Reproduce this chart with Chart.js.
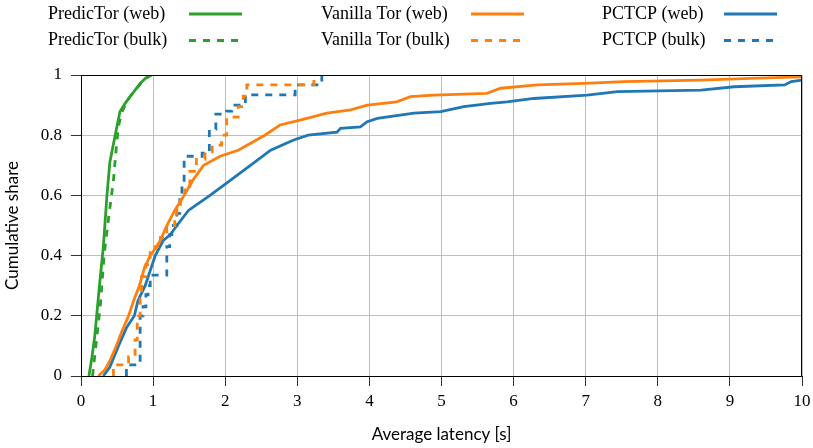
<!DOCTYPE html>
<html>
<head>
<meta charset="utf-8">
<script src="https://cdn.jsdelivr.net/npm/chart.js@4.4.0/dist/chart.umd.min.js"></script>
<style>
    html, body { margin: 0; padding: 0; background: #fff; }
    #wrap { width: 813px; height: 448px; }
</style>
</head>
<body>
<div id="wrap"><canvas id="latencyChart" width="813" height="448"></canvas></div>
<script>
// Valores (latência média em s, fração acumulada)
const predictorWebX = [0.11, 0.15, 0.19, 0.26, 0.31, 0.36, 0.40, 0.47, 0.54, 0.61, 0.68, 0.75, 0.82, 0.90, 0.98];
const predictorWebY = [0, 0.06, 0.13, 0.31, 0.43, 0.60, 0.71, 0.795, 0.878, 0.905, 0.928, 0.95, 0.972, 0.99, 1.0];

const predictorBulkX = [0.16, 0.22, 0.27, 0.32, 0.38, 0.45, 0.49, 0.52, 0.565, 0.63, 0.70, 0.77, 0.84, 0.96];
const predictorBulkY = [0, 0.13, 0.24, 0.40, 0.52, 0.65, 0.76, 0.83, 0.875, 0.91, 0.935, 0.955, 0.975, 1.0];

const vanillaWebX = [0.24, 0.33, 0.40, 0.49, 0.57, 0.66, 0.73, 0.81, 0.88, 0.96, 1.02, 1.10, 1.19, 1.30, 1.43, 1.55, 1.70, 1.93, 2.18, 2.55, 2.76, 3.04, 3.41, 3.74, 3.97, 4.38, 4.57, 4.89, 5.63, 5.82, 6.33, 6.98, 7.53, 8.60, 9.29, 10.0];
const vanillaWebY = [0, 0.02, 0.05, 0.10, 0.15, 0.20, 0.25, 0.30, 0.36, 0.40, 0.42, 0.45, 0.50, 0.55, 0.60, 0.65, 0.70, 0.73, 0.75, 0.80, 0.834, 0.85, 0.873, 0.884, 0.90, 0.911, 0.928, 0.933, 0.939, 0.956, 0.967, 0.972, 0.978, 0.983, 0.989, 0.994];

const vanillaBulkX = [0.45, 0.45, 0.66, 0.75, 0.78, 0.82, 0.84, 0.90, 0.96, 1.03, 1.10, 1.19, 1.30, 1.33, 1.38, 1.44, 1.51, 1.60, 1.72, 1.82, 1.95, 2.02, 2.18, 2.25, 2.30, 3.23];
const vanillaBulkY = [0, 0.037, 0.064, 0.12, 0.20, 0.27, 0.33, 0.37, 0.41, 0.43, 0.46, 0.50, 0.53, 0.57, 0.60, 0.63, 0.68, 0.72, 0.745, 0.767, 0.80, 0.86, 0.895, 0.93, 0.967, 0.983];

const pctcpWebX = [0.31, 0.40, 0.52, 0.63, 0.74, 0.79, 0.89, 0.96, 1.03, 1.14, 1.24, 1.33, 1.49, 1.61, 1.79, 2.07, 2.35, 2.63, 2.95, 3.15, 3.55, 3.60, 3.875, 3.97, 4.11, 4.62, 4.99, 5.31, 5.68, 5.91, 6.28, 7.02, 7.44, 8.60, 9.06, 9.76, 9.85, 10.0];
const pctcpWebY = [0, 0.03, 0.10, 0.16, 0.20, 0.25, 0.30, 0.35, 0.40, 0.45, 0.47, 0.50, 0.55, 0.57, 0.60, 0.65, 0.70, 0.75, 0.784, 0.80, 0.81, 0.823, 0.828, 0.845, 0.856, 0.873, 0.878, 0.895, 0.906, 0.911, 0.922, 0.933, 0.945, 0.95, 0.961, 0.967, 0.978, 0.983];

const pctcpBulkX = [0.63, 0.63, 0.82, 0.86, 0.90, 0.93, 0.96, 1.19, 1.23, 1.26, 1.33, 1.37, 1.40, 1.43, 1.68, 1.78, 1.87, 2.02, 2.09, 2.28, 2.97, 3.34];
const pctcpBulkY = [0, 0.037, 0.20, 0.23, 0.27, 0.30, 0.335, 0.43, 0.47, 0.50, 0.54, 0.60, 0.65, 0.73, 0.74, 0.82, 0.87, 0.88, 0.90, 0.934, 0.967, 1.0];

const xTicks = [0, 1, 2, 3, 4, 5, 6, 7, 8, 9, 10];
const yTicks = [0, 0.2, 0.4, 0.6, 0.8, 1];

const GREEN = '#2ca02c';
const ORANGE = '#ff7f0e';
const BLUE = '#1f77b4';
const DASH = [7, 7];

function toPoints(xs, ys) {
    return xs.map((x, i) => ({ x: x, y: ys[i] }));
}

function makeSet(label, xs, ys, color, dashed, stepped) {
    return {
        label: label,
        data: toPoints(xs, ys),
        borderColor: color,
        backgroundColor: color,
        borderWidth: 2.8,
        borderDash: dashed ? DASH : [],
        stepped: stepped ? 'before' : false,
        pointRadius: 0,
        tension: 0,
        fill: false
    };
}

const datasets = [
    makeSet('PredicTor (web)', predictorWebX, predictorWebY, GREEN, false, false),
    makeSet('PredicTor (bulk)', predictorBulkX, predictorBulkY, GREEN, true, false),
    makeSet('Vanilla Tor (web)', vanillaWebX, vanillaWebY, ORANGE, false, false),
    makeSet('Vanilla Tor (bulk)', vanillaBulkX, vanillaBulkY, ORANGE, true, true),
    makeSet('PCTCP (web)', pctcpWebX, pctcpWebY, BLUE, false, false),
    makeSet('PCTCP (bulk)', pctcpBulkX, pctcpBulkY, BLUE, true, true)
];

// legenda em 3 colunas x 2 linhas: texto à esquerda, amostra da linha à direita
const legendCols = [
    { textX: 48, lineX: 189 },
    { textX: 321, lineX: 471 },
    { textX: 602, lineX: 724 }
];
const legendRows = [
    { baseline: 19, lineY: 14 },
    { baseline: 45, lineY: 40.5 }
];

const legendPlugin = {
    id: 'gridLegend',
    afterDraw(chart) {
        const ctx = chart.ctx;
        ctx.save();
        ctx.font = '18px "Liberation Serif", "DejaVu Serif", serif';
        ctx.textBaseline = 'alphabetic';
        ctx.textAlign = 'left';
        chart.data.datasets.forEach((ds, i) => {
            const col = legendCols[Math.floor(i / 2)];
            const row = legendRows[i % 2];
            ctx.fillStyle = '#000';
            ctx.fillText(ds.label, col.textX, row.baseline);
            ctx.strokeStyle = ds.borderColor;
            ctx.lineWidth = 3;
            ctx.setLineDash(ds.borderDash);
            ctx.beginPath();
            ctx.moveTo(col.lineX, row.lineY);
            ctx.lineTo(col.lineX + 53, row.lineY);
            ctx.stroke();
        });
        ctx.restore();
    }
};

// moldura superior e direita da área do gráfico
const framePlugin = {
    id: 'frame',
    afterDraw(chart) {
        const { ctx, chartArea } = chart;
        const top = Math.round(chartArea.top) + 0.5;
        const right = Math.round(chartArea.right) - 0.5;
        ctx.save();
        ctx.strokeStyle = '#000';
        ctx.lineWidth = 1;
        ctx.setLineDash([]);
        ctx.beginPath();
        ctx.moveTo(chartArea.left, top);
        ctx.lineTo(right, top);
        ctx.lineTo(right, chartArea.bottom);
        ctx.stroke();
        ctx.restore();
    }
};

const tickFont = { family: '"Liberation Serif", "DejaVu Serif", serif', size: 17 };
const titleFont = { family: 'Lato, "Noto Sans", sans-serif', size: 17 };

document.addEventListener('DOMContentLoaded', () => {
    const ctx = document.getElementById('latencyChart');
    new Chart(ctx, {
        type: 'line',
        data: { datasets: datasets },
        plugins: [legendPlugin, framePlugin],
        options: {
            responsive: false,
            animation: false,
            devicePixelRatio: 1,
            layout: { padding: { top: 75, right: 11, left: 0, bottom: 0 } },
            plugins: {
                legend: { display: false },
                tooltip: { enabled: false }
            },
            scales: {
                x: {
                    type: 'linear',
                    min: 0,
                    max: 10,
                    afterBuildTicks: (scale) => { scale.ticks = xTicks.map(v => ({ value: v })); },
                    afterFit: (scale) => {
                        scale.height = 72;
                        scale.paddingLeft = 0;
                        scale.paddingRight = 0;
                    },
                    ticks: {
                        font: tickFont,
                        color: '#000',
                        padding: 5,
                        maxRotation: 0,
                        callback: (v) => String(v)
                    },
                    grid: {
                        color: '#bebebe',
                        lineWidth: 1,
                        tickColor: '#333',
                        tickLength: 10,
                        tickWidth: 1
                    },
                    border: { color: '#000', width: 1 },
                    title: {
                        display: true,
                        text: 'Average latency [s]',
                        font: titleFont,
                        color: '#000',
                        padding: { top: 0, bottom: 3 }
                    }
                },
                y: {
                    type: 'linear',
                    min: 0,
                    max: 1,
                    afterBuildTicks: (scale) => { scale.ticks = yTicks.map(v => ({ value: v })); },
                    afterFit: (scale) => {
                        scale.width = 81;
                        scale.paddingTop = 0;
                        scale.paddingBottom = 0;
                    },
                    ticks: {
                        font: tickFont,
                        color: '#000',
                        padding: 9,
                        callback: (v) => String(+v.toFixed(1))
                    },
                    grid: {
                        color: '#bebebe',
                        lineWidth: 1,
                        tickColor: '#333',
                        tickLength: 10,
                        tickWidth: 1
                    },
                    border: { color: '#000', width: 1 },
                    title: {
                        display: true,
                        text: 'Cumulative share',
                        font: titleFont,
                        color: '#000',
                        padding: { top: 2, bottom: 0 }
                    }
                }
            }
        }
    });
});
</script>
</body>
</html>
